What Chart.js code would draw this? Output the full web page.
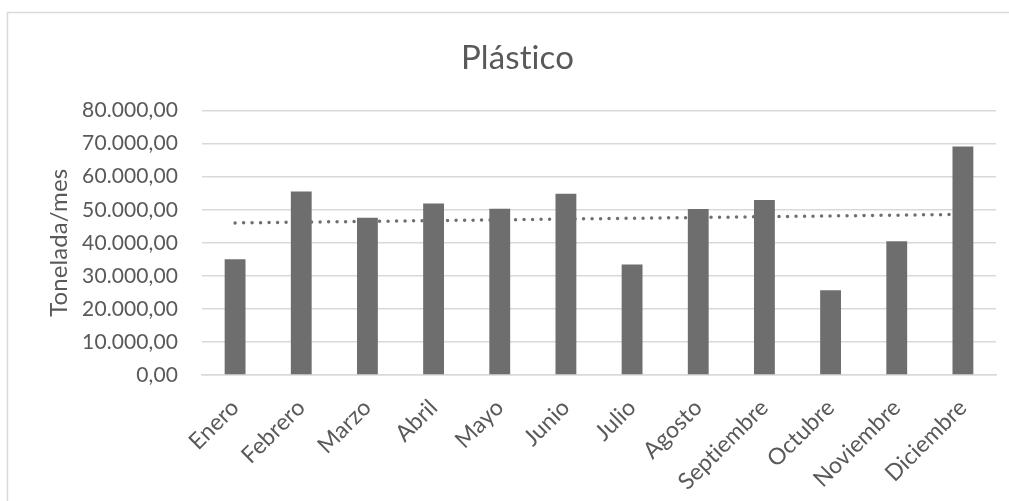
<!DOCTYPE html>
<html>
<head>
<meta charset="utf-8">
<script src="https://cdn.jsdelivr.net/npm/chart.js@4.4.1/dist/chart.umd.min.js"></script>
<style>
  html, body { margin: 0; padding: 0; background: #ffffff; }
  #wrap { width: 1009px; height: 501px; position: relative; }
</style>
</head>
<body>
<div id="wrap"><canvas id="c" width="1009" height="501"></canvas></div>
<script>
const categories = ['Enero','Febrero','Marzo','Abril','Mayo','Junio','Julio','Agosto','Septiembre','Octubre','Noviembre','Diciembre'];
const plasticValues = [35000, 55550, 47600, 51900, 50300, 54850, 33450, 50200, 52950, 25650, 40500, 69100];
const trendStartEnd = [46000, 48600];
const yTickValues = [0, 10000, 20000, 30000, 40000, 50000, 60000, 70000, 80000];
const yTickLabels = ['0,00','10.000,00','20.000,00','30.000,00','40.000,00','50.000,00','60.000,00','70.000,00','80.000,00'];
const chartTitle = 'Plástico';
const yAxisTitle = 'Tonelada/mes';

const trendPoints = [
  { x: categories[0], y: trendStartEnd[0] },
  { x: categories[categories.length - 1], y: trendStartEnd[1] }
];

const FONT = 'Lato, "Open Sans", sans-serif';
const TEXT = '#595959';

function noLigatures(ctx) {
  try { ctx.letterSpacing = '0.1px'; } catch (e) {}
  try { ctx.textRendering = 'optimizeSpeed'; } catch (e) {}
}

const borderPlugin = {
  id: 'outerBorder',
  beforeUpdate(chart) { noLigatures(chart.ctx); },
  beforeDraw(chart) {
    const ctx = chart.ctx;
    noLigatures(ctx);
    ctx.save();
    ctx.fillStyle = '#ffffff';
    ctx.fillRect(0, 0, chart.width, chart.height);
    ctx.strokeStyle = '#d9d9d9';
    ctx.lineWidth = 1.5;
    ctx.beginPath();
    ctx.moveTo(7.5, chart.height + 5);
    ctx.lineTo(7.5, 12.5);
    ctx.lineTo(chart.width + 5, 12.5);
    ctx.stroke();
    ctx.restore();
  }
};

new Chart(document.getElementById('c'), {
  type: 'bar',
  data: {
    labels: categories,
    datasets: [
      {
        type: 'line',
        label: 'Tendencia',
        data: trendPoints,
        borderColor: '#6f6f6f',
        borderWidth: 3.5,
        borderDash: [0, 8.5],
        borderCapStyle: 'round',
        pointRadius: 0,
        fill: false,
        order: 0
      },
      {
        label: chartTitle,
        data: plasticValues,
        backgroundColor: '#6e6e6e',
        borderWidth: 0,
        categoryPercentage: 1,
        barPercentage: 0.315,
        order: 1
      }
    ]
  },
  options: {
    responsive: false,
    animation: false,
    devicePixelRatio: 1,
    layout: { padding: { left: 39, right: 13, top: 0, bottom: 0 } },
    plugins: {
      legend: { display: false },
      tooltip: { enabled: false },
      title: {
        display: true,
        text: chartTitle,
        color: TEXT,
        font: { family: FONT, size: 33, weight: 'normal' },
        padding: { top: 39, bottom: 32 }
      }
    },
    scales: {
      x: {
        grid: { display: false, drawTicks: false },
        border: { display: true, color: '#d9d9d9', width: 1.5 },
        ticks: {
          color: TEXT,
          font: { family: FONT, size: 23 },
          minRotation: 45,
          maxRotation: 45,
          padding: 19,
          autoSkip: false
        },
        afterFit(scale) { scale.height = 126; }
      },
      y: {
        min: 0,
        max: 80000,
        afterBuildTicks(scale) { scale.ticks = yTickValues.map(v => ({ value: v })); },
        grid: { color: '#d9d9d9', lineWidth: 1.5, drawTicks: false },
        border: { display: false },
        ticks: {
          color: TEXT,
          font: { family: FONT, size: 21 },
          padding: 24,
          callback(value) {
            const i = yTickValues.indexOf(value);
            return i >= 0 ? yTickLabels[i] : '';
          }
        },
        title: {
          display: true,
          text: yAxisTitle,
          color: TEXT,
          font: { family: FONT, size: 24 },
          padding: { top: 6, bottom: 0 }
        },
        afterFit(scale) { scale.width = 163; }
      }
    }
  },
  plugins: [borderPlugin]
});
</script>
</body>
</html>
